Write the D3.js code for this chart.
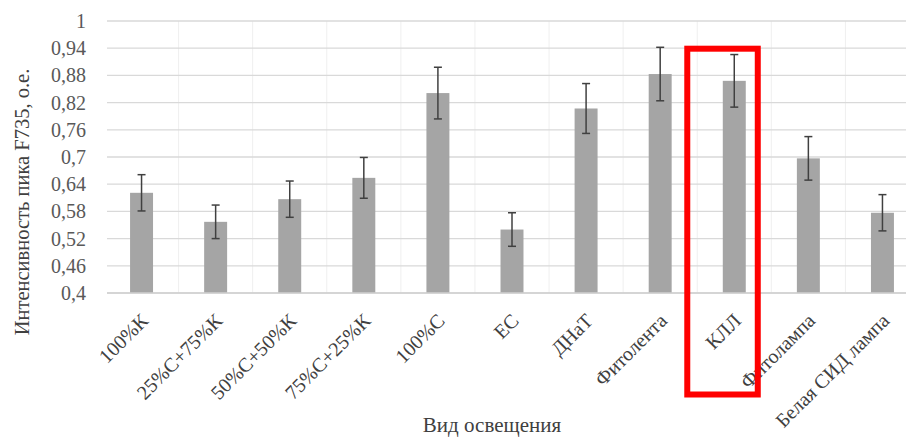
<!DOCTYPE html>
<html><head><meta charset="utf-8">
<script src="https://cdn.jsdelivr.net/npm/d3@7"></script>
<style>body{margin:0;background:#fff}svg{display:block}
svg text{font-family:"Liberation Serif","Times New Roman",serif}</style>
</head><body>
<svg id="c" width="909" height="438"></svg>
<script>
const categories = ["100%К","25%С+75%К","50%С+50%К","75%С+25%К","100%С","ЕС","ДНаТ","Фитолента","КЛЛ","Фитолампа","Белая СИД лампа"];
const values = [0.621,0.557,0.607,0.654,0.841,0.540,0.807,0.883,0.868,0.697,0.577];
const errors = [0.040,0.037,0.040,0.045,0.057,0.037,0.055,0.059,0.058,0.048,0.040];
const yTicks = [0.4,0.46,0.52,0.58,0.64,0.7,0.76,0.82,0.88,0.94,1];
const highlight = "КЛЛ";

(function(){
const svg = d3.select("#c");
const L = 104.5, R = 919.5, T = 21, B = 293, plotRight = 906;
const x = d3.scaleBand().domain(categories).range([L, R]).paddingInner(0.69).paddingOuter(0.345);
const y = d3.scaleLinear().domain([0.4, 1]).range([B, T]);
const fmt = v => String(+v.toFixed(2)).replace(".", ",");
const step = x.step();

// vertical faint grid at category boundaries
svg.append("g").selectAll("line").data(categories.slice(1)).join("line")
  .attr("x1", d => x(d) + x.bandwidth()/2 - step/2).attr("x2", d => x(d) + x.bandwidth()/2 - step/2)
  .attr("y1", T).attr("y2", B)
  .attr("stroke", "#efefef").attr("stroke-width", 1);

// horizontal grid
svg.append("g").selectAll("line").data(yTicks).join("line")
  .attr("x1", 107).attr("x2", plotRight)
  .attr("y1", d => y(d)).attr("y2", d => y(d))
  .attr("stroke", "#d9d9d9").attr("stroke-width", 1.3);

// y tick labels via axis
const yAxis = svg.append("g").attr("transform", "translate(86,0)")
  .call(d3.axisLeft(y).tickValues(yTicks).tickFormat(fmt).tickSize(0).tickPadding(0));
yAxis.select(".domain").remove();
yAxis.attr("font-family", null).attr("font-size", null);
yAxis.selectAll("text")
  .attr("font-size", 20).attr("fill", "#595959").attr("text-anchor", "end");

// bars
svg.append("g").selectAll("rect").data(categories).join("rect")
  .attr("x", d => x(d)).attr("width", x.bandwidth())
  .attr("y", (d, i) => y(values[i])).attr("height", (d, i) => B - y(values[i]))
  .attr("fill", "#a5a5a5");

// error bars
const eg = svg.append("g").attr("stroke", "#404040").attr("stroke-width", 1.5);
categories.forEach((c, i) => {
  const cx = x(c) + x.bandwidth()/2;
  const y1 = y(values[i] + errors[i]), y0 = y(values[i] - errors[i]);
  eg.append("line").attr("x1", cx).attr("x2", cx).attr("y1", y1).attr("y2", y0);
  eg.append("line").attr("x1", cx-4).attr("x2", cx+4).attr("y1", y1).attr("y2", y1);
  eg.append("line").attr("x1", cx-4).attr("x2", cx+4).attr("y1", y0).attr("y2", y0);
});

// x axis line
svg.append("line").attr("x1", 107).attr("x2", plotRight).attr("y1", B).attr("y2", B)
  .attr("stroke", "#d0d0d0").attr("stroke-width", 1.3);

// x labels
const xAxis = svg.append("g").attr("transform", `translate(0,${B})`)
  .call(d3.axisBottom(x).tickSize(0).tickPadding(0));
xAxis.select(".domain").remove();
xAxis.attr("font-family", null).attr("font-size", null);
xAxis.selectAll("text")
  .attr("font-size", 20)
  .attr("fill", "#404040").attr("text-anchor", "end").attr("dy", 0).attr("y", 0)
  .attr("transform", "translate(8,29) rotate(-45)");

// axis titles
svg.append("text").attr("x", 492).attr("y", 432).attr("text-anchor", "middle")
  .attr("font-size", 21)
  .attr("fill", "#404040").text("Вид освещения");
svg.append("text").attr("transform", "translate(29,202) rotate(-90)").attr("text-anchor", "middle")
  .attr("font-size", 20.5)
  .attr("fill", "#404040").text("Интенсивность пика F735, о.е.");

// highlight rectangle
const hx = x(highlight) + x.bandwidth()/2;
svg.append("rect").attr("x", hx - 47).attr("y", 48.7).attr("width", 70.5).attr("height", 345.8)
  .attr("fill", "none").attr("stroke", "#ff0000").attr("stroke-width", 6);
})();
</script>
</body></html>
